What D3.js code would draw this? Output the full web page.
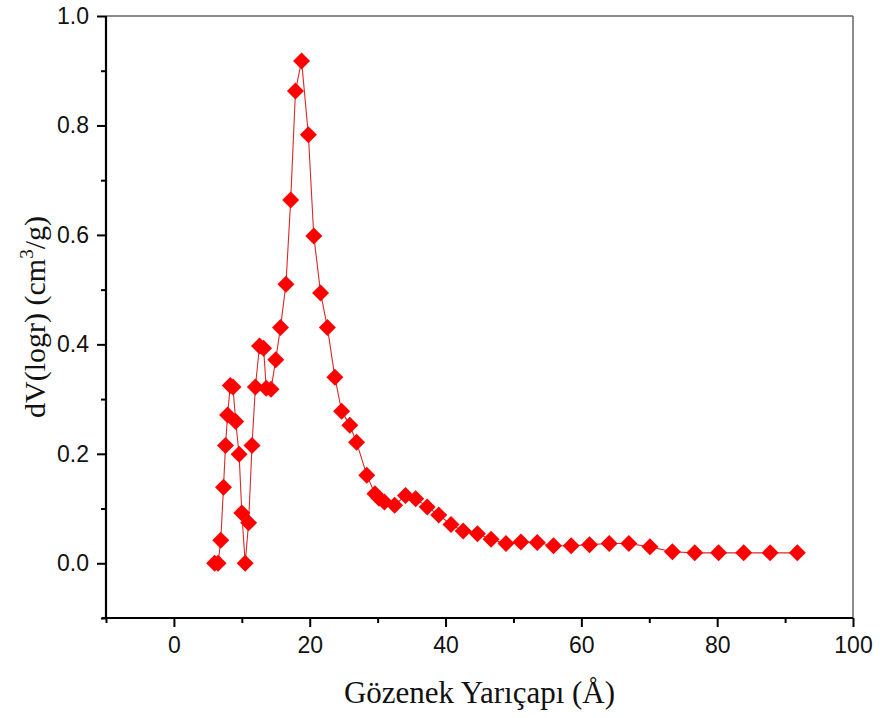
<!DOCTYPE html>
<html>
<head>
<meta charset="utf-8">
<script src="https://cdn.jsdelivr.net/npm/d3@7"></script>
<style>
  html, body { margin: 0; padding: 0; background: #fff; }
  svg { display: block; }
</style>
</head>
<body>
<svg id="chart" width="880" height="718"></svg>
<script>
// ---- data ----
const poreRadius = [6.0, 6.5, 6.9, 7.3, 7.6, 7.9, 8.3, 8.7, 9.1, 9.6, 10.0, 10.5, 11.0, 11.5, 12.0, 12.6, 13.2, 13.6, 14.3, 15.0,
  15.7, 16.5, 17.2, 17.9, 18.8, 19.8, 20.6, 21.6, 22.6, 23.7, 24.7, 25.9, 26.9, 28.4, 29.6, 30.2, 31.0, 32.5, 34.1, 35.6,
  37.3, 39.0, 40.8, 42.6, 44.7, 46.7, 48.9, 51.1, 53.5, 55.9, 58.5, 61.2, 64.1, 67.0, 70.1, 73.4, 76.7, 80.2, 83.9, 87.8, 91.8];
const dVlogr = [0.0, 0.0, 0.042, 0.139, 0.215, 0.271, 0.325, 0.322, 0.259, 0.199, 0.092, 0.0, 0.074, 0.215, 0.322, 0.397, 0.393, 0.320, 0.318, 0.372,
  0.431, 0.510, 0.664, 0.863, 0.918, 0.783, 0.598, 0.494, 0.431, 0.340, 0.278, 0.252, 0.221, 0.161, 0.127, 0.119, 0.112, 0.106, 0.124, 0.118,
  0.103, 0.088, 0.071, 0.059, 0.054, 0.044, 0.036, 0.039, 0.038, 0.032, 0.032, 0.034, 0.036, 0.036, 0.030, 0.021, 0.019, 0.019, 0.019, 0.019, 0.019];
const xMajorTicks = [0, 20, 40, 60, 80, 100];
const xMinorTicks = [-10, 10, 30, 50, 70, 90];
const yMajorTicks = [0.0, 0.2, 0.4, 0.6, 0.8, 1.0];
const yMinorTicks = [-0.1, 0.1, 0.3, 0.5, 0.7, 0.9];
const xTitle = "Gözenek Yarıçapı (Å)";

// ---- layout ----
const pL = 106, pR = 853, pT = 16, pB = 618;
const svg = d3.select("#chart");
const x = d3.scaleLinear().domain([-10, 100]).range([pL, pR]);
const y = d3.scaleLinear().domain([-0.1, 1.0]).range([pB, pT]);

// frame (top/right)
svg.append("line").attr("x1", pL).attr("x2", pR).attr("y1", pT).attr("y2", pT)
  .attr("stroke", "#666").attr("stroke-width", 1.5);
svg.append("line").attr("x1", pR).attr("x2", pR).attr("y1", pT).attr("y2", pB)
  .attr("stroke", "#666").attr("stroke-width", 1.5);

const tickFont = "'Liberation Sans', Arial, sans-serif";

// x axis
const gx = svg.append("g").attr("transform", `translate(0,${pB})`)
  .call(d3.axisBottom(x).tickValues(xMajorTicks).tickSize(9).tickPadding(10).tickFormat(d3.format("d")));
const gxm = svg.append("g").attr("transform", `translate(0,${pB})`)
  .call(d3.axisBottom(x).tickValues(xMinorTicks).tickSize(5).tickFormat(""));
// y axis
const gy = svg.append("g").attr("transform", `translate(${pL},0)`)
  .call(d3.axisLeft(y).tickValues(yMajorTicks).tickSize(9).tickPadding(8).tickFormat(d3.format(".1f")));
const gym = svg.append("g").attr("transform", `translate(${pL},0)`)
  .call(d3.axisLeft(y).tickValues(yMinorTicks).tickSize(5).tickFormat(""));

[gx, gxm, gy, gym].forEach(g => {
  g.select(".domain").attr("stroke", "#000").attr("stroke-width", 2.2);
  g.selectAll(".tick line").attr("stroke", "#000").attr("stroke-width", 2);
  g.selectAll(".tick text").attr("fill", "#111").style("font-family", tickFont).style("font-size", "23px");
});
gxm.select(".domain").attr("d", `M${pL},0H${pR}`);
gx.select(".domain").attr("d", `M${pL - 4},0H${pR}`);
gy.select(".domain").attr("d", `M0,${pT}V${pB}`);
gym.select(".domain").remove();

// line
const pts = poreRadius.map((r, i) => [r, dVlogr[i]]);
svg.append("path").datum(pts)
  .attr("fill", "none").attr("stroke", "#d62a2a").attr("stroke-width", 1.1)
  .attr("d", d3.line().x(d => x(d[0])).y(d => y(d[1])));

// diamond markers
const h = 8.5;
svg.append("g").selectAll("path").data(pts).join("path")
  .attr("transform", d => `translate(${x(d[0])},${y(d[1])})`)
  .attr("d", `M0,${-h}L${h},0L0,${h}L${-h},0Z`)
  .attr("fill", "#ff0000");

// titles
const titleFont = "'Liberation Serif', 'Times New Roman', serif";
svg.append("text").attr("x", (pL + pR) / 2).attr("y", 703)
  .attr("text-anchor", "middle").style("font-family", titleFont).style("font-size", "31px").attr("fill", "#111")
  .text(xTitle);

const yt = svg.append("text").attr("transform", `translate(45,${(pT + pB) / 2}) rotate(-90)`)
  .attr("text-anchor", "middle").style("font-family", titleFont).style("font-size", "30px").attr("fill", "#111");
yt.append("tspan").text("dV(logr) (cm");
yt.append("tspan").attr("dy", -12).style("font-size", "19px").text("3");
yt.append("tspan").attr("dy", 12).text("/g)");
</script>
</body>
</html>
